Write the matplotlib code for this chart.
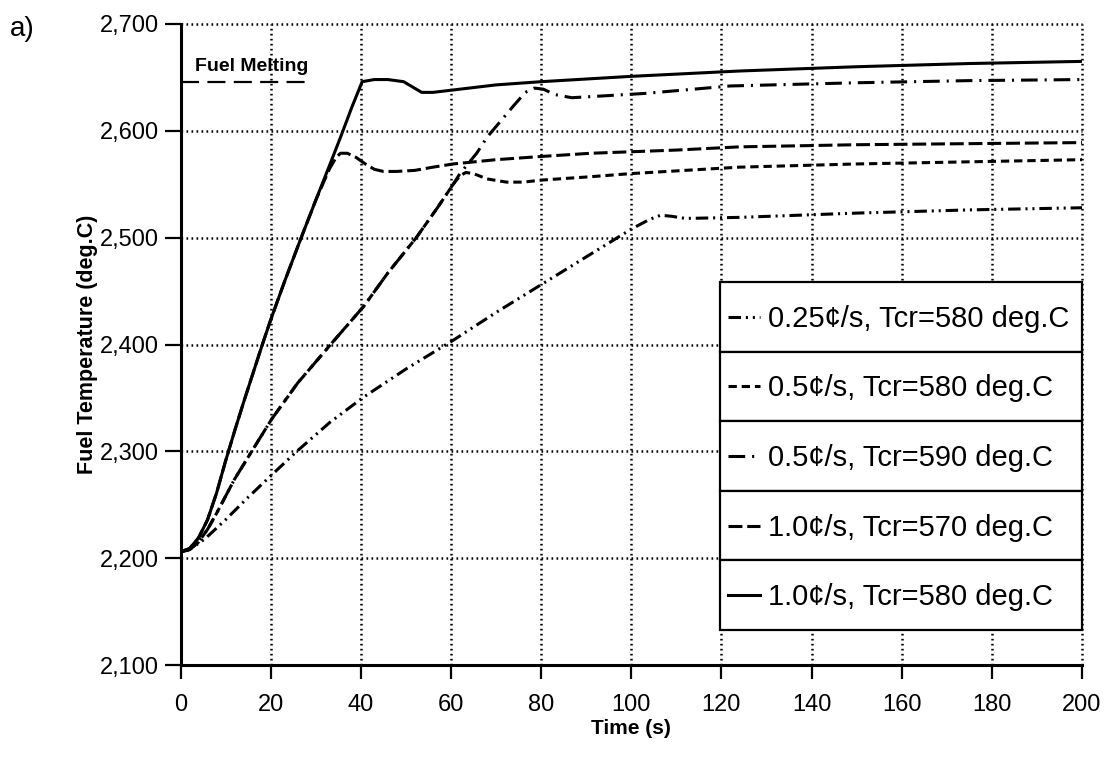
import matplotlib
matplotlib.use("Agg")
import matplotlib.pyplot as plt
from matplotlib.lines import Line2D
from matplotlib.patches import Rectangle
from matplotlib.ticker import MultipleLocator, StrMethodFormatter

plt.rcParams["font.family"] = ["Liberation Sans", "DejaVu Sans"]
plt.rcParams["lines.scale_dashes"] = False

# ── Fuel temperature transients (time in s, temperature in deg.C) ────────────
time_025_580 = [0, 2, 5.4, 10, 15, 20, 25.8, 33.1, 40.7, 50, 60.5, 70, 80.4,
                90, 100, 104, 106.5, 109, 112, 124, 150, 175, 200]
temp_025_580 = [2206, 2208, 2218, 2236, 2257, 2277, 2300, 2327, 2351, 2377,
                2404, 2430, 2457, 2482, 2508, 2517, 2521, 2520, 2518, 2519,
                2523, 2526, 2528]

time_05_580 = [0, 2, 4, 6, 8, 10, 12, 15.8, 20.2, 26, 33.3, 40.7, 46, 52.3,
               57, 60.5, 62, 63.3, 65, 68, 72.3, 76, 80.4, 90.8, 100, 124,
               150, 175, 200]
temp_05_580 = [2206, 2208, 2215, 2227, 2242, 2258, 2274, 2300, 2330, 2364,
               2400, 2436, 2467, 2500, 2528, 2550, 2558, 2561, 2560, 2555,
               2552, 2552, 2554, 2557, 2560, 2566, 2569, 2571, 2573]

time_05_590 = [0, 2, 4, 6, 8, 10, 12, 15.8, 20.2, 26, 33.3, 40.7, 46, 52.3,
               57, 60.5, 62, 65.7, 68, 71.2, 74, 76.5, 78.5, 80.5, 83, 86.8,
               95, 103, 122, 150, 175, 200]
temp_05_590 = [2206, 2208, 2215, 2227, 2242, 2258, 2274, 2300, 2330, 2364,
               2400, 2436, 2467, 2500, 2528, 2550, 2560, 2579, 2594, 2610,
               2624, 2636, 2640, 2639, 2634, 2631, 2633, 2635, 2642, 2645,
               2647, 2648]

time_10_570 = [0, 2, 4, 6, 8, 10, 12, 14, 16, 18, 20, 23, 26.5, 30, 33, 34.5,
               35.5, 37, 39, 41, 43, 45, 48, 52, 56, 60.5, 70, 80, 91, 110,
               124, 150, 175, 200]
temp_10_570 = [2206, 2209, 2219, 2236, 2261, 2291, 2319, 2346, 2372, 2398,
               2423, 2458, 2497, 2535, 2564, 2575, 2579, 2579, 2575, 2569,
               2564, 2562, 2562, 2563, 2566, 2569, 2573, 2576, 2579, 2582,
               2585, 2587, 2588, 2589]

time_10_580 = [0, 2, 4, 6, 8, 10, 12, 14, 16, 18, 20, 23, 26.5, 30, 33, 35.5,
               38, 40.3, 43, 46, 49.5, 51.5, 53.5, 56, 60, 64, 70, 80, 100,
               124, 150, 175, 200]
temp_10_580 = [2206, 2209, 2219, 2236, 2261, 2291, 2319, 2346, 2372, 2398,
               2423, 2458, 2497, 2535, 2567, 2594, 2622, 2646, 2648, 2648,
               2646, 2641, 2636, 2636, 2638, 2640, 2643, 2646, 2651, 2656,
               2660, 2663, 2665]

fuel_melting = 2646
melting_span = [0, 28.7]

labels = ["0.25¢/s, Tcr=580 deg.C", "0.5¢/s, Tcr=580 deg.C",
          "0.5¢/s, Tcr=590 deg.C", "1.0¢/s, Tcr=570 deg.C",
          "1.0¢/s, Tcr=580 deg.C"]
series = [(time_025_580, temp_025_580), (time_05_580, temp_05_580),
          (time_05_590, temp_05_590), (time_10_570, temp_10_570),
          (time_10_580, temp_10_580)]
# dash patterns in points
styles = [(0, (9, 3.5, 1.5, 3.5, 1.5, 3.5)),
          (0, (6, 3.5)),
          (0, (12, 5, 1.5, 5)),
          (0, (10, 3.5)),
          "-"]

fig = plt.figure(figsize=(11.04, 7.57), dpi=100)
ax = fig.add_axes([0.1635, 0.1215, 0.8166, 0.8468])

for (t, T), ls in zip(series, styles):
    ax.plot(t, T, color="black", lw=2.2, linestyle=ls, zorder=3)

ax.plot(melting_span, [fuel_melting, fuel_melting], color="black", lw=1.6,
        linestyle=(0, (13, 6)), zorder=3)
ax.text(3.2, 2656, "Fuel Melting", fontsize=14, fontweight="bold", zorder=4)

ax.set_xlim(0, 200)
ax.set_ylim(2100, 2700)
ax.xaxis.set_major_locator(MultipleLocator(20))
ax.yaxis.set_major_locator(MultipleLocator(100))
ax.yaxis.set_major_formatter(StrMethodFormatter("{x:,.0f}"))

ax.spines["top"].set_visible(False)
ax.spines["right"].set_visible(False)
ax.spines["left"].set_linewidth(2.2)
ax.spines["bottom"].set_linewidth(2.2)
ax.tick_params(axis="x", direction="out", length=10, width=1.6, pad=11,
               labelsize=17)
ax.tick_params(axis="y", direction="out", length=11.5, width=1.6, pad=4,
               labelsize=17)

ax.grid(True, color="black", lw=1.8, linestyle=(0, (1.2, 2.4)), zorder=1)
for gl in ax.get_xgridlines() + ax.get_ygridlines():
    gl.set_clip_on(False)
ax.set_axisbelow(True)

ax.set_xlabel("Time (s)", fontsize=15, fontweight="bold", labelpad=2)
ax.set_ylabel("Fuel Temperature (deg.C)", fontsize=15.5, fontweight="bold",
              labelpad=1)

# boxed legend, one cell per run
x0, x1 = 0.5985, 1.0
top, row_h = 0.5975, 0.1086
for i, (label, ls) in enumerate(zip(labels, styles)):
    y_hi = top - i * row_h
    ax.add_patch(Rectangle((x0, y_hi - row_h), x1 - x0, row_h,
                           transform=ax.transAxes, facecolor="white",
                           edgecolor="black", lw=1.6, zorder=5, clip_on=False))
    yc = y_hi - row_h / 2
    ax.add_line(Line2D([x0 + 0.009, x0 + 0.044], [yc, yc],
                       transform=ax.transAxes, color="black", lw=2.2,
                       linestyle=ls, zorder=6))
    ax.text(x0 + 0.053, yc - 0.0156, label, transform=ax.transAxes,
            fontsize=21, va="baseline", ha="left", zorder=6)

fig.text(0.009, 0.952, "a)", fontsize=20, va="baseline")

fig.savefig("out.png", dpi=100)
